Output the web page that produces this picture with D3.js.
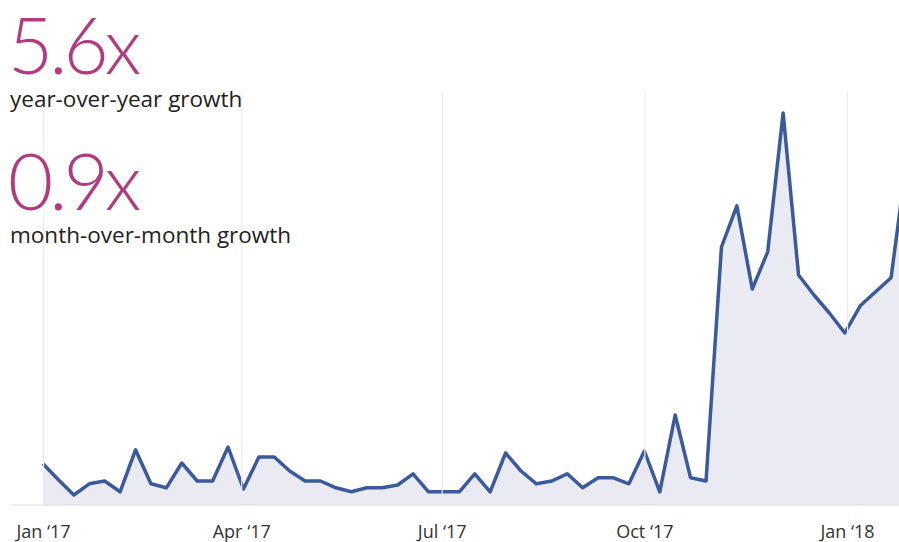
<!DOCTYPE html>
<html>
<head>
<meta charset="utf-8">
<script src="https://cdn.jsdelivr.net/npm/d3@7"></script>
<style>
  body { margin: 0; background: #fff; }
  svg { display: block; font-family: "Open Sans", Lato, sans-serif; }
  .grid line { stroke: #ebebef; stroke-width: 1.2; }
  .grid text { fill: #333; font-size: 18px; }
</style>
</head>
<body>
<div id="chart"></div>
<script>
// weekly volume, relative index (week starting Jan 1 2017)
var weeklyValues = [
  10.3, 6.3, 2.5, 5.3, 6, 3.3, 13.8, 5.3, 4.3, 10.5,
  6, 6, 14.5, 4, 12, 12, 8.5, 6, 6, 4.3,
  3.3, 4.3, 4.3, 5, 7.8, 3.3, 3.3, 3.3, 7.8, 3.3,
  13, 8.5, 5.3, 6, 7.8, 4.3, 6.8, 6.8, 5.3, 13.5,
  3.3, 22.5, 6.8, 6, 64.5, 74.8, 54, 63.3, 98, 57.5,
  52.5, 48, 43, 49.8, 53.3, 56.8, 86
];
var quarterTicks = ["2017-01-01", "2017-04-01", "2017-07-01", "2017-10-01", "2018-01-01"];
var headlineNumbers = ["5.6x", "0.9x"];
var headlineLabels = ["year-over-year growth", "month-over-month growth"];

var width = 899;
var height = 542;
var baseY = 505;
var topY = 92;

var parseDate = d3.timeParse("%Y-%m-%d");
var start = parseDate("2017-01-01");

var data = weeklyValues.map(function (v, i) {
  return { date: d3.timeDay.offset(start, i * 7), value: v };
});

var x = d3.scaleTime()
  .domain([start, parseDate("2018-01-01")])
  .range([43, 847]);

var y = d3.scaleLinear()
  .domain([0, 100])
  .range([baseY, 105]);

var svg = d3.select("#chart")
  .append("svg")
  .attr("width", width)
  .attr("height", height);

svg.append("defs").append("clipPath")
  .attr("id", "clip")
  .append("rect")
  .attr("x", 0).attr("y", 0)
  .attr("width", width).attr("height", height);

var chart = svg.append("g").attr("clip-path", "url(#clip)");

var area = d3.area()
  .x(function (d) { return x(d.date); })
  .y0(baseY)
  .y1(function (d) { return y(d.value); });

var line = d3.line()
  .x(function (d) { return x(d.date); })
  .y(function (d) { return y(d.value); });

chart.append("path")
  .datum(data)
  .attr("d", area)
  .attr("fill", "#eaebf2");

// gridlines + month labels (drawn over the fill)
var axis = d3.axisBottom(x)
  .tickValues(quarterTicks.map(parseDate))
  .tickFormat(function (d) { return d3.timeFormat("%b")(d) + " \u2018" + d3.timeFormat("%y")(d); })
  .tickSizeInner(-(baseY - topY))
  .tickSizeOuter(0)
  .tickPadding(20);

var g = svg.append("g")
  .attr("class", "grid")
  .attr("transform", "translate(0," + baseY + ")")
  .call(axis);
g.select(".domain").remove();
g.selectAll("text").style("font-family", "'Open Sans', sans-serif");

// baseline
svg.append("line")
  .attr("x1", 10).attr("x2", width)
  .attr("y1", baseY).attr("y2", baseY)
  .attr("stroke", "#dcdce2")
  .attr("stroke-width", 1);

chart.append("path")
  .datum(data)
  .attr("d", line)
  .attr("fill", "none")
  .attr("stroke", "#3a5a9c")
  .attr("stroke-width", 3.5)
  .attr("stroke-linejoin", "round");

// headline stats
var stats = svg.append("g");
[0, 1].forEach(function (i) {
  var off = i * 136;
  stats.append("text")
    .attr("x", 8)
    .attr("y", 74 + off)
    .attr("fill", "#b23b7f")
    .style("font-family", "Lato, sans-serif")
    .style("font-size", "78px")
    .style("font-weight", 300)
    .style("letter-spacing", "-4px")
    .text(headlineNumbers[i]);
  stats.append("text")
    .attr("x", 10)
    .attr("y", 107 + off)
    .attr("fill", "#222")
    .style("font-size", "22.5px")
    .text(headlineLabels[i]);
});
</script>
</body>
</html>
